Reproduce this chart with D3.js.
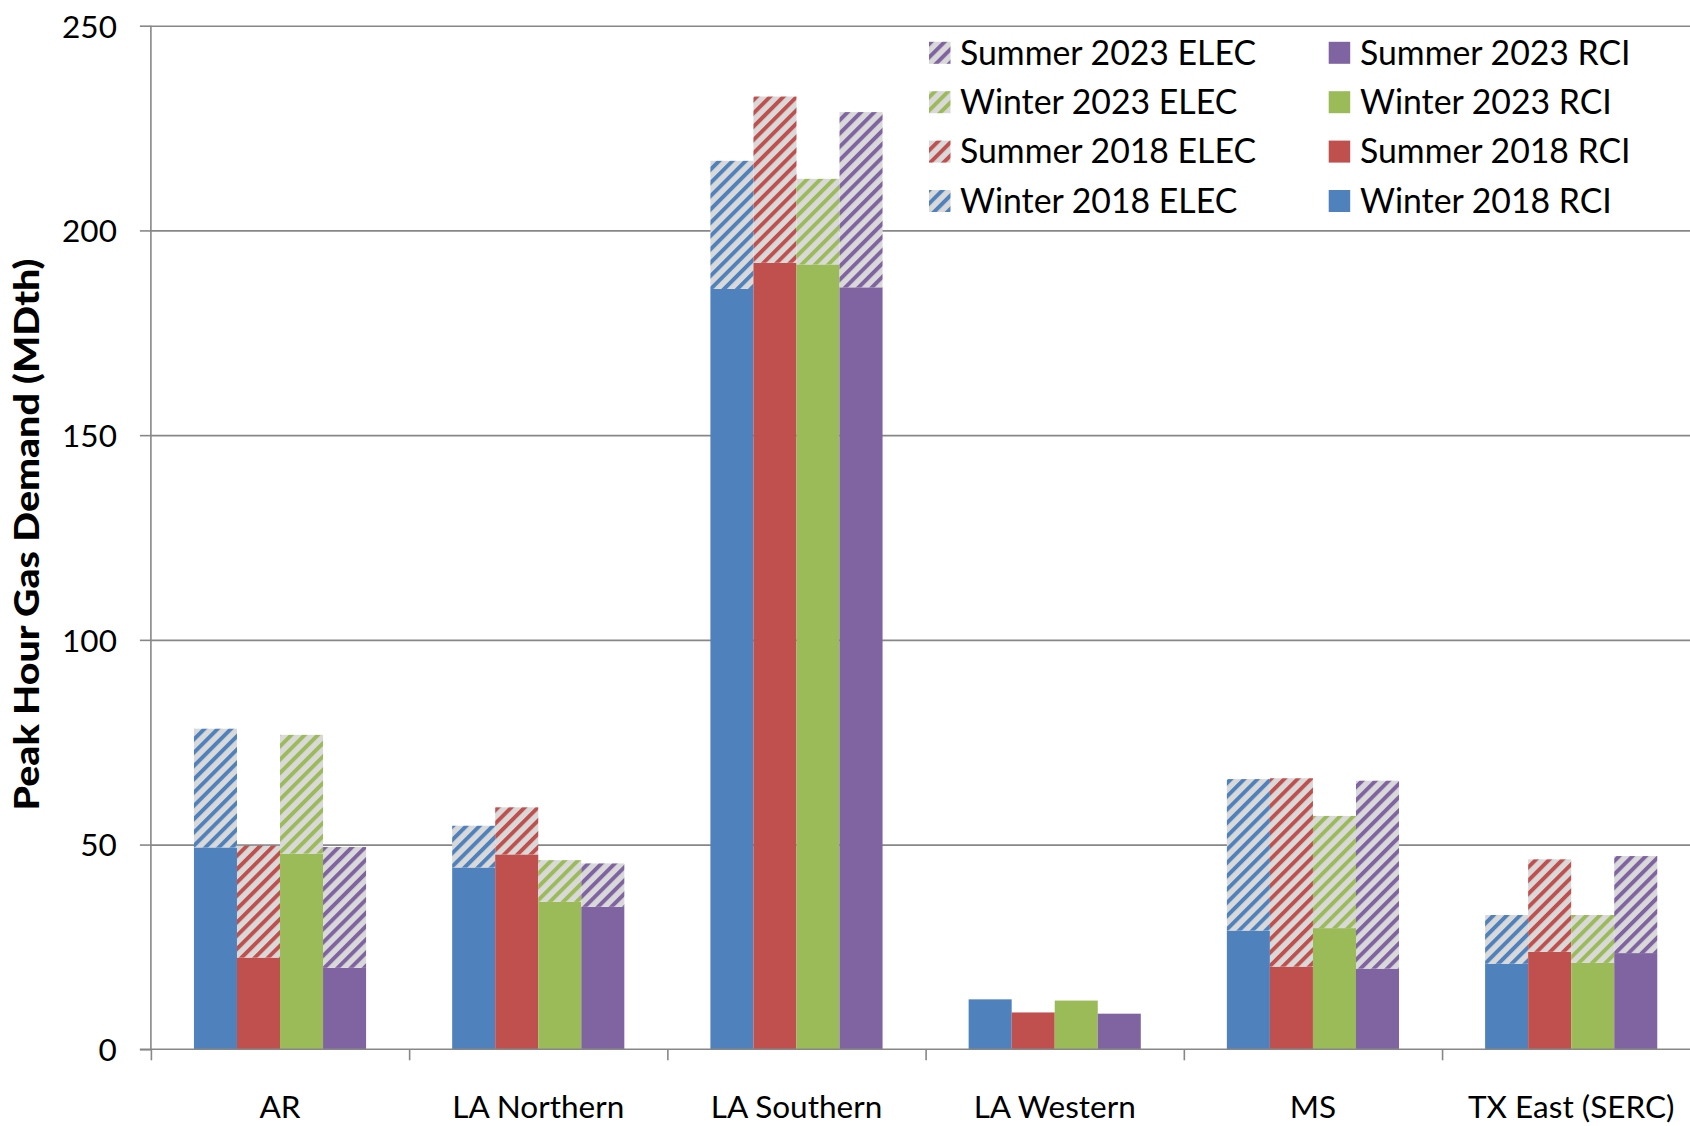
<!DOCTYPE html>
<html>
<head>
<meta charset="utf-8">
<script src="https://cdn.jsdelivr.net/npm/d3@7"></script>
<style>
  html, body { margin: 0; padding: 0; background: #ffffff; overflow: hidden; }
  svg { display: block; }
  text { font-family: Lato, "Open Sans", sans-serif; fill: #000; }
</style>
</head>
<body>
<svg id="chart" width="1690" height="1126"></svg>
<script>
// ---------- data ----------
const categories = ["AR", "LA Northern", "LA Southern", "LA Western", "MS", "TX East (SERC)"];
const seriesNames = ["Winter 2018", "Summer 2018", "Winter 2023", "Summer 2023"];
const seriesColors = ["#4F81BD", "#C0504D", "#9BBB59", "#8064A2"];

// RCI (solid) values, MDth
const rciWinter2018 = [49.3, 44.4, 185.7, 12.2, 29.0, 20.9];
const rciSummer2018 = [22.4, 47.6, 192.1, 9.0, 20.2, 23.8];
const rciWinter2023 = [47.8, 36.0, 191.7, 11.9, 29.6, 21.1];
const rciSummer2023 = [19.9, 34.8, 186.1, 8.7, 19.7, 23.5];

// ELEC (hatched, stacked on top of RCI) values, MDth
const elecWinter2018 = [29.0, 10.2, 31.3, 0, 37.0, 11.9];
const elecSummer2018 = [27.3, 11.5, 40.6, 0, 46.0, 22.6];
const elecWinter2023 = [29.0, 10.2, 20.9, 0, 27.4, 11.7];
const elecSummer2023 = [29.5, 10.6, 42.8, 0, 45.9, 23.7];

const yTicks = [0, 50, 100, 150, 200, 250];
const legendLeft = ["Summer 2023 ELEC", "Winter 2023 ELEC", "Summer 2018 ELEC", "Winter 2018 ELEC"];
const legendRight = ["Summer 2023 RCI", "Winter 2023 RCI", "Summer 2018 RCI", "Winter 2018 RCI"];
const yTitle = "Peak Hour Gas Demand (MDth)";

// ---------- layout ----------
const rciAll = [rciWinter2018, rciSummer2018, rciWinter2023, rciSummer2023];
const elecAll = [elecWinter2018, elecSummer2018, elecWinter2023, elecSummer2023];

const svg = d3.select("#chart");
const plotLeft = 150.9, plotRight = 1700.3, plotTop = 25.7, plotBottom = 1049.3;
const axisColor = "#878787";
const fontSize = 31.5;
const legendFont = 33.8;

const x = d3.scaleBand().domain(categories).range([plotLeft, plotRight]).paddingInner(0).paddingOuter(0);
const xs = d3.scaleBand().domain(seriesNames)
  .range([x.bandwidth() / 6, x.bandwidth() * 5 / 6]).padding(0);
const y = d3.scaleLinear().domain([0, 250]).range([plotBottom, plotTop]);

// ---------- hatch patterns ----------
const defs = svg.append("defs");
seriesColors.forEach((c, i) => {
  const p = defs.append("pattern")
    .attr("id", "hatch" + i)
    .attr("patternUnits", "userSpaceOnUse")
    .attr("width", 9.4).attr("height", 9.4)
    .attr("patternTransform", "rotate(45)");
  p.append("rect").attr("width", 9.4).attr("height", 9.4).attr("fill", "#D9D9D9");
  p.append("rect").attr("x", 0).attr("width", 3.9).attr("height", 9.4).attr("fill", c);
});

// ---------- gridlines ----------
svg.append("g")
  .attr("transform", `translate(${plotLeft},0)`)
  .call(d3.axisLeft(y).tickValues(yTicks.filter(d => d > 0)).tickSize(-(plotRight - plotLeft)).tickFormat(""))
  .call(g => g.select(".domain").remove())
  .call(g => g.selectAll("line").attr("stroke", axisColor).attr("stroke-width", 1.6));

// ---------- bars ----------
const gBars = svg.append("g");
categories.forEach((cat, ci) => {
  seriesNames.forEach((s, si) => {
    const rci = rciAll[si][ci];
    const elec = elecAll[si][ci];
    const bx = x(cat) + xs(s);
    gBars.append("rect")
      .attr("x", bx).attr("width", xs.bandwidth())
      .attr("y", y(rci)).attr("height", y(0) - y(rci))
      .attr("fill", seriesColors[si]);
    if (elec > 0) {
      gBars.append("rect")
        .attr("x", bx).attr("width", xs.bandwidth())
        .attr("y", y(rci + elec)).attr("height", y(rci) - y(rci + elec))
        .attr("fill", `url(#hatch${si})`);
    }
  });
});

// ---------- y axis ----------
svg.append("g")
  .attr("transform", `translate(${plotLeft},0)`)
  .call(d3.axisLeft(y).tickValues(yTicks).tickSize(11).tickPadding(23).tickFormat(d3.format("d")))
  .call(g => g.select(".domain").attr("stroke", axisColor).attr("stroke-width", 1.6)
      .attr("d", `M0,${plotTop}V${plotBottom}`))
  .call(g => g.selectAll("line").attr("stroke", axisColor).attr("stroke-width", 1.6))
  .call(g => g.selectAll("text").attr("font-size", fontSize).attr("font-family", "Lato")
      .attr("dy", "0.36em"));

// ---------- x axis ----------
const xBound = d3.scaleLinear().domain([0, categories.length]).range([plotLeft, plotRight]);
svg.append("g")
  .attr("transform", `translate(0,${plotBottom})`)
  .call(d3.axisBottom(xBound).tickValues(d3.range(categories.length + 1)).tickSize(11).tickFormat(""))
  .call(g => g.select(".domain").attr("stroke", axisColor).attr("stroke-width", 1.6)
      .attr("d", `M${plotLeft - 11},0H${plotRight}`))
  .call(g => g.selectAll("line").attr("stroke", axisColor).attr("stroke-width", 1.6));

svg.append("g")
  .attr("transform", `translate(0,${plotBottom})`)
  .call(d3.axisBottom(x).tickSize(0).tickPadding(0))
  .call(g => g.select(".domain").remove())
  .call(g => g.selectAll("text").attr("font-size", fontSize).attr("font-family", "Lato")
      .attr("y", 0).attr("dy", 1118 - plotBottom));

// ---------- y title ----------
svg.append("text")
  .attr("transform", `translate(38.5,${(plotTop + plotBottom) / 2 - 3}) rotate(-90)`)
  .attr("text-anchor", "middle")
  .attr("font-weight", "900")
  .attr("font-size", 35)
  .attr("textLength", 552)
  .attr("lengthAdjust", "spacingAndGlyphs")
  .text(yTitle);

// ---------- legend ----------
const legRow0 = 52.8, legStep = 49.4;
const legend = svg.append("g");
legendLeft.forEach((lab, i) => {
  const si = seriesNames.indexOf(lab.replace(" ELEC", ""));
  const cy = legRow0 + i * legStep;
  legend.append("rect").attr("x", 929).attr("y", cy - 11).attr("width", 21.5).attr("height", 22)
    .attr("fill", `url(#hatch${si})`);
  legend.append("text").attr("x", 960).attr("y", cy + 0.35 * legendFont)
    .attr("font-size", legendFont).text(lab);
});
legendRight.forEach((lab, i) => {
  const si = seriesNames.indexOf(lab.replace(" RCI", ""));
  const cy = legRow0 + i * legStep;
  legend.append("rect").attr("x", 1328.7).attr("y", cy - 11).attr("width", 21.5).attr("height", 22)
    .attr("fill", seriesColors[si]);
  legend.append("text").attr("x", 1360).attr("y", cy + 0.35 * legendFont)
    .attr("font-size", legendFont).text(lab);
});
</script>
</body>
</html>
